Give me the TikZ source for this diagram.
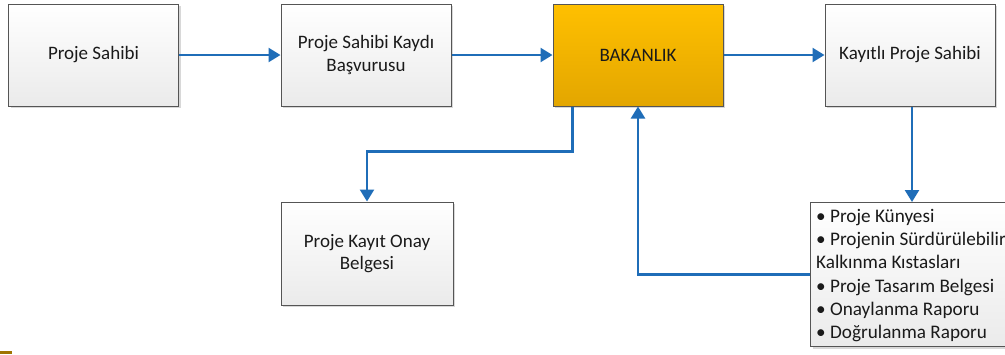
\documentclass[tikz,border=0pt]{standalone}
\usepackage{fontspec}
\setmainfont{Carlito}
\usetikzlibrary{arrows.meta,shadows,calc}
\definecolor{conn}{HTML}{1F6DB8}
\definecolor{txt}{HTML}{1A1A1A}
\definecolor{bord}{HTML}{555555}
\definecolor{goldtop}{HTML}{FFC000}
\definecolor{goldbot}{HTML}{E3A600}
\begin{document}
\begin{tikzpicture}[x=1pt,y=-1pt,
  box/.style={draw=bord,line width=1pt,shading=axis,top color=white,bottom color=black!8,
    drop shadow={shadow xshift=2pt,shadow yshift=-2pt,fill=black!30,opacity=0.5},
    minimum width=170pt,minimum height=102pt,align=center,text=txt,
    font=\fontsize{19}{22.5}\selectfont,inner sep=2pt},
  gold/.style={box,top color=goldtop,bottom color=goldbot},
  listtext/.style={align=left,text=txt,inner sep=0pt,font=\fontsize{19.2}{23.2}\selectfont},
  link/.style={draw=conn,line width=2.4pt,-{Triangle[length=12pt,width=14pt]}},
]
\useasboundingbox (0,0) rectangle (1005,354);
\clip (0,0) rectangle (1005,354);
\fill[white] (0,0) rectangle (1005,354);
\node[box] (ps) at (93.5,55) {Proje Sahibi};
\node[box] (psk) at (366,55) {Proje Sahibi Kaydı\\Başvurusu};
\node[gold] (bak) at (638,55) {BAKANLIK};
\node[box] (kps) at (910,55) {Kayıtlı Proje Sahibi};
\node[box,minimum width=172pt,minimum height=103pt] (onay) at (367,253.5) {Proje Kayıt Onay\\Belgesi};
\node[box,anchor=north west,minimum width=230pt,minimum height=144pt] (list) at (810,202) {};
\node[listtext,anchor=west] (listtxt) at ($(list.west)+(6,1)$)
  {\textbullet{} Proje Künyesi\\
   \textbullet{} Projenin Sürdürülebilir\\
   Kalkınma Kıstasları\\
   \textbullet{} Proje Tasarım Belgesi\\
   \textbullet{} Onaylanma Raporu\\
   \textbullet{} Doğrulanma Raporu};
\draw[link] (ps.east) -- (psk.west);
\draw[link] (psk.east) -- (bak.west);
\draw[link] (bak.east) -- (kps.west);
\draw[link] ([xshift=2pt]kps.south) -- ([xshift=2pt]kps.south |- list.north);
\draw[link] ([xshift=-65.5pt]bak.south) -- ++(0,45) -| (onay.north);
\draw[link] (list.west) -| (bak.south);
\fill[goldbot!70!black] (0,351) rectangle (12,354);
\end{tikzpicture}
\end{document}
